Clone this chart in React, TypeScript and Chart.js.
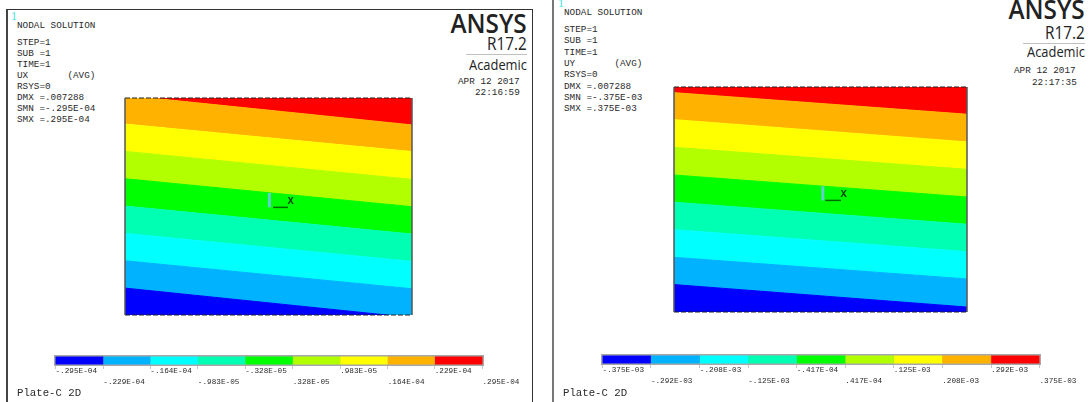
import React, { useEffect, useRef } from "react";
import { Chart, registerables } from "chart.js";

Chart.register(...registerables);

// Contour band colours, lowest band first
const bandColors = ["#0000FF", "#00B2FF", "#00FFFF", "#00FFB2", "#00FF00", "#B2FF00", "#FFFF00", "#FFB200", "#FF0000"];

// Upper boundary of each band, in % of the plate height, at the plate's left and right edges
const uxLeftEdge = [12.4, 25.0, 37.6, 50.2, 62.8, 75.4, 88.0, 101.2, 100];
const uxRightEdge = [-1.2, 12.1, 24.7, 37.3, 49.9, 62.5, 75.3, 87.6, 100];
const uyLeftEdge = [12.2, 24.3, 36.6, 48.8, 60.9, 73.2, 85.5, 97.5, 100];
const uyRightEdge = [2.2, 14.7, 26.8, 39.0, 51.1, 63.4, 75.6, 87.9, 100];

// Contour levels shown in the legends
const uxLevels = [-29.5, -22.9, -16.4, -9.83, -3.28, 3.28, 9.83, 16.4, 22.9, 29.5];
const uyLevels = [-375, -292, -208, -125, -41.7, 41.7, 125, 208, 292, 375];
const uxLevelLabels = ["-.295E-04", "-.229E-04", "-.164E-04", "-.983E-05", "-.328E-05", ".328E-05", ".983E-05", ".164E-04", ".229E-04", ".295E-04"];
const uyLevelLabels = ["-.375E-03", "-.292E-03", "-.208E-03", "-.125E-03", "-.417E-04", ".417E-04", ".125E-03", ".208E-03", ".292E-03", ".375E-03"];

const uxHeader = ["STEP=1", "SUB =1", "TIME=1", "UX       (AVG)", "RSYS=0", "DMX =.007288", "SMN =-.295E-04", "SMX =.295E-04"];
const uyHeader = ["STEP=1", "SUB =1", "TIME=1", "UY       (AVG)", "RSYS=0", "DMX =.007288", "SMN =-.375E-03", "SMX =.375E-03"];

const MONO = '"Liberation Mono", monospace';
const SANS = '"Open Sans", sans-serif';

type Rect = { left: number; top: number; w: number; h: number };

function PlateChart({ rect, leftEdge, rightEdge, stickX, axisFrom, axisTo, axisY, stickTop }: {
  rect: Rect; leftEdge: number[]; rightEdge: number[]; stickX: number; axisFrom: number; axisTo: number; axisY: number; stickTop: number;
}) {
  const ref = useRef<HTMLCanvasElement>(null);
  const pad = 4;
  useEffect(() => {
    const bands = bandColors.map((c, i) => ({
      data: [{ x: 0, y: leftEdge[i] }, { x: 1, y: rightEdge[i] }],
      backgroundColor: c,
      borderColor: c,
      borderWidth: 1,
      pointRadius: 0,
      fill: i === 0 ? "start" : "-1",
    }));
    const overlay = [
      { data: [{ x: stickX, y: axisY }, { x: stickX, y: stickTop }], borderColor: "#5fcfd0", borderWidth: 3, pointRadius: 0, fill: false },
      { data: [{ x: axisFrom, y: axisY }, { x: axisTo, y: axisY }], borderColor: "#006a00", borderWidth: 1.5, pointRadius: 0, fill: false },
      { data: [{ x: 0, y: 0 }, { x: 0, y: 100 }, { x: NaN, y: NaN }, { x: 1, y: 100 }, { x: 1, y: 0 }], borderColor: "#555555", borderWidth: 1.5, pointRadius: 0, fill: false, clip: false, spanGaps: false },
      { data: [{ x: 0, y: 100 }, { x: 1, y: 100 }, { x: NaN, y: NaN }, { x: 0, y: 0 }, { x: 1, y: 0 }], borderColor: "#222222", borderWidth: 1.2, borderDash: [5, 2], pointRadius: 0, fill: false, clip: false, spanGaps: false },
    ];
    const datasets = [
      ...bands.map((b, i) => ({ ...b, order: 10 + i })),
      ...overlay.map((o, i) => ({ ...o, order: i })),
    ];
    const chart = new Chart(ref.current!, {
      type: "line",
      data: { datasets: datasets as any },
      options: {
        animation: false,
        responsive: false,
        layout: { padding: pad },
        plugins: { legend: { display: false }, tooltip: { enabled: false } },
        elements: { line: { tension: 0 } },
        scales: {
          x: { type: "linear", min: 0, max: 1, display: false },
          y: { type: "linear", min: 0, max: 100, display: false },
        },
      },
    });
    return () => chart.destroy();
  }, []);
  return (
    <canvas ref={ref} width={rect.w + pad * 2} height={rect.h + pad * 2}
      style={{ position: "absolute", left: rect.left - pad, top: rect.top - pad, width: rect.w + pad * 2, height: rect.h + pad * 2 }} />
  );
}

function LegendChart({ levels, labels, left, right, top, canvasLeft, canvasW }: {
  levels: number[]; labels: string[]; left: number; right: number; top: number; canvasLeft: number; canvasW: number;
}) {
  const ref = useRef<HTMLCanvasElement>(null);
  useEffect(() => {
    const span = levels[levels.length - 1] - levels[0];
    const margin = span * 0.0035;
    const lo = levels[0] - margin;
    const hi = levels[levels.length - 1] + margin;
    const datasets: any[] = bandColors.map((c, i) => ({
      data: [[levels[i], levels[i + 1]]],
      backgroundColor: c,
      barPercentage: 0.72,
      categoryPercentage: 1,
      borderWidth: 0,
    }));
    datasets.push({ data: [[lo, hi]], backgroundColor: "#a8a8a8", barPercentage: 1, categoryPercentage: 1, borderWidth: 0 });
    const chart = new Chart(ref.current!, {
      type: "bar",
      data: { labels: ["levels"], datasets },
      options: {
        animation: false,
        responsive: false,
        indexAxis: "y",
        layout: { padding: { left: left - canvasLeft, right: canvasLeft + canvasW - right, top: 0, bottom: 0 } },
        plugins: { legend: { display: false }, tooltip: { enabled: false } },
        datasets: { bar: { grouped: false } },
        scales: {
          x: {
            type: "linear", min: lo, max: hi,
            grid: { display: true, drawOnChartArea: false, drawTicks: true, tickLength: 3, color: "#c8c8c8" },
            border: { display: false },
            afterBuildTicks: (s: any) => { s.ticks = levels.map((value) => ({ value })); },
            afterFit: (s: any) => { s.height = 39; },
            ticks: {
              autoSkip: false, maxRotation: 0, minRotation: 0, align: "start", padding: -3.5,
              color: "#2a2a2a",
              font: { family: MONO, size: 7.7, lineHeight: 1.43 },
              callback: (_v: any, i: number) => (i % 2 === 0 ? labels[i] : ["", labels[i]]),
            },
          },
          y: { display: false },
        },
      },
    });
    return () => chart.destroy();
  }, []);
  return (
    <canvas ref={ref} width={canvasW} height={50}
      style={{ position: "absolute", left: canvasLeft, top, width: canvasW, height: 50 }} />
  );
}

function T({ x, y, children, size = 9.33, font = MONO, color = "#2a2a2a", weight = 400 }: any) {
  return (
    <div style={{ position: "absolute", left: x, top: y - 10, height: 20, lineHeight: "20px", fontFamily: font, fontSize: size, color, fontWeight: weight, whiteSpace: "pre" }}>
      {children}
    </div>
  );
}

function Brand({ right, y, size, scale, weight = 400, children, color = "#222222" }: any) {
  return (
    <div style={{
      position: "absolute", right: 1089 - right, top: y - 30, height: 60, lineHeight: "60px",
      fontFamily: SANS, fontSize: size, fontWeight: weight, color, whiteSpace: "pre",
      transform: `scaleX(${scale})`, transformOrigin: "right center",
    }}>{children}</div>
  );
}

function Panel({ header, x, nodalY, stepY, step }: { header: string[]; x: number; nodalY: number; stepY: number; step: number }) {
  return (
    <>
      <T x={x} y={nodalY}>NODAL SOLUTION</T>
      {header.map((line, i) => <T key={i} x={x} y={stepY + i * step}>{line}</T>)}
    </>
  );
}

export default function App() {
  useEffect(() => { document.body.style.margin = "0"; document.body.style.background = "#fff"; }, []);
  return (
    <div style={{ position: "fixed", left: 0, top: 0, width: 1089, height: 402, overflow: "hidden", background: "#fff" }}>
      <div style={{ position: "absolute", left: 6, top: 9, width: 524, height: 400, borderLeft: "2px solid #444", borderTop: "1px solid #333", borderRight: "1px solid #333" }} />
      <div style={{ position: "absolute", left: 552, top: -4, width: 536, height: 420, borderLeft: "2px solid #777", borderRight: "1px solid #999" }} />

      <PlateChart rect={{ left: 125, top: 98, w: 287, h: 217 }} leftEdge={uxLeftEdge} rightEdge={uxRightEdge}
        stickX={0.503} stickTop={56.2} axisY={49.6} axisFrom={0.516} axisTo={0.568} />
      <PlateChart rect={{ left: 674, top: 87, w: 293, h: 225 }} leftEdge={uyLeftEdge} rightEdge={uyRightEdge}
        stickX={0.508} stickTop={55.9} axisY={49.6} axisFrom={0.516} axisTo={0.57} />

      <LegendChart levels={uxLevels} labels={uxLevelLabels} left={54} right={484} top={355} canvasLeft={0} canvasW={530} />
      <LegendChart levels={uyLevels} labels={uyLevelLabels} left={601} right={1041} top={354} canvasLeft={554} canvasW={534} />

      <T x={11} y={16} size={12} font={'"Liberation Serif", serif'} color="#40e0e8">1</T>
      <T x={558} y={3} size={12} font={'"Liberation Serif", serif'} color="#40e0e8">1</T>

      <Panel header={uxHeader} x={17} nodalY={26} stepY={43} step={11} />
      <Panel header={uyHeader} x={564} nodalY={13} stepY={30} step={11.3} />

      <T x={287.5} y={200.5} size={10.5} color="#004000" weight={700}>X</T>
      <T x={840.5} y={193.5} size={10.5} color="#004000" weight={700}>X</T>

      <Brand right={527} y={23} size={27} scale={0.9} weight={600}>ANSYS</Brand>
      <Brand right={527} y={43} size={18} scale={0.85}>R17.2</Brand>
      <div style={{ position: "absolute", left: 466, top: 54, width: 61, height: 1, background: "#c0c0c0" }} />
      <Brand right={527} y={65} size={14} scale={0.92}>Academic</Brand>
      <T x={458} y={82}>APR 12 2017</T>
      <T x={475} y={93}>22:16:59</T>

      <Brand right={1085} y={9} size={27} scale={0.9} weight={600}>ANSYS</Brand>
      <Brand right={1085} y={32} size={18} scale={0.85}>R17.2</Brand>
      <div style={{ position: "absolute", left: 1023, top: 43, width: 62, height: 1, background: "#c0c0c0" }} />
      <Brand right={1085} y={52} size={14} scale={0.92}>Academic</Brand>
      <T x={1014} y={71}>APR 12 2017</T>
      <T x={1032} y={83}>22:17:35</T>

      <T x={17} y={393} size={10.7}>Plate-C 2D</T>
      <T x={563} y={393} size={10.7}>Plate-C 2D</T>
    </div>
  );
}
